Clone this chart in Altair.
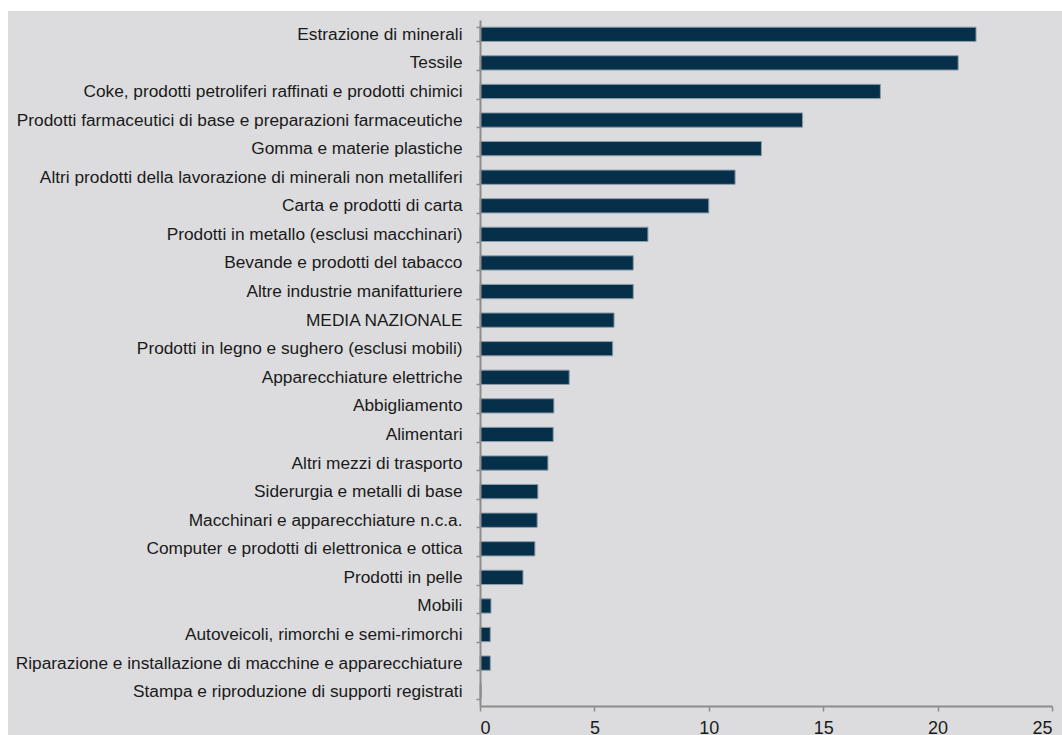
import altair as alt
import pandas as pd

categories = [
    "Estrazione di minerali",
    "Tessile",
    "Coke, prodotti petroliferi raffinati e prodotti chimici",
    "Prodotti farmaceutici di base e preparazioni farmaceutiche",
    "Gomma e materie plastiche",
    "Altri prodotti della lavorazione di minerali non metalliferi",
    "Carta e prodotti di carta",
    "Prodotti in metallo (esclusi macchinari)",
    "Bevande e prodotti del tabacco ",
    "Altre industrie manifatturiere",
    "MEDIA NAZIONALE",
    "Prodotti in legno e sughero (esclusi mobili)",
    "Apparecchiature elettriche",
    "Abbigliamento ",
    "Alimentari",
    "Altri mezzi di trasporto",
    "Siderurgia e metalli di base",
    "Macchinari e apparecchiature n.c.a.",
    "Computer e prodotti di elettronica e ottica",
    "Prodotti in pelle",
    "Mobili",
    "Autoveicoli, rimorchi e semi-rimorchi",
    "Riparazione e installazione di macchine e apparecchiature",
    "Stampa e riproduzione di supporti registrati",
]
values = [21.68, 20.9, 17.5, 14.1, 12.3, 11.15, 10.0, 7.34, 6.7, 6.7, 5.86, 5.8,
          3.9, 3.23, 3.2, 2.97, 2.53, 2.5, 2.4, 1.88, 0.48, 0.45, 0.45, 0.05]
x_ticks = [0, 5, 10, 15, 20, 25]

df = pd.DataFrame({"cat": categories, "val": values})

W, H = 572, 686
PL, PT = 480, 20

bg = alt.Chart(pd.DataFrame({"a": [0]})).mark_rect(color="#dcdcde", clip=False).encode(
    x=alt.value(8 - PL), x2=alt.value(1062 - PL),
    y=alt.value(11 - PT), y2=alt.value(735 - PT),
)

bars = alt.Chart(df).mark_bar(color="#06304a", stroke="#8d9ca8", strokeWidth=1).encode(
    x=alt.X("val:Q", scale=alt.Scale(domain=[0, 25], nice=False),
            axis=alt.Axis(values=x_ticks, title=None, grid=False, domainColor="#8c8c8c",
                          domainWidth=2, tickColor="#8c8c8c", tickSize=5, tickWidth=1.5,
                          labelFontSize=18, labelColor="#1a1a1a", labelPadding=8,
                          labelFont="Liberation Sans", zindex=1)),
    y=alt.Y("cat:N", sort=categories,
            scale=alt.Scale(paddingInner=0.5, paddingOuter=0.25),
            axis=alt.Axis(title=None, tickBand="extent", domainColor="#8c8c8c",
                          domainWidth=2, tickColor="#8c8c8c", tickSize=4, tickWidth=1.5,
                          labelFontSize=17.3, labelColor="#1a1a1a", labelPadding=14,
                          labelFont="Liberation Sans", labelLimit=0, zindex=1)),
)

chart = alt.layer(bg, bars).properties(
    width=W, height=H,
    autosize=alt.AutoSizeParams(type="none"),
    padding={"left": PL, "top": PT, "right": 1062 - PL - W, "bottom": 735 - PT - H},
    background="white",
).configure_view(stroke=None)

chart.save("out.html", embed_options={"renderer": "svg", "actions": False})
